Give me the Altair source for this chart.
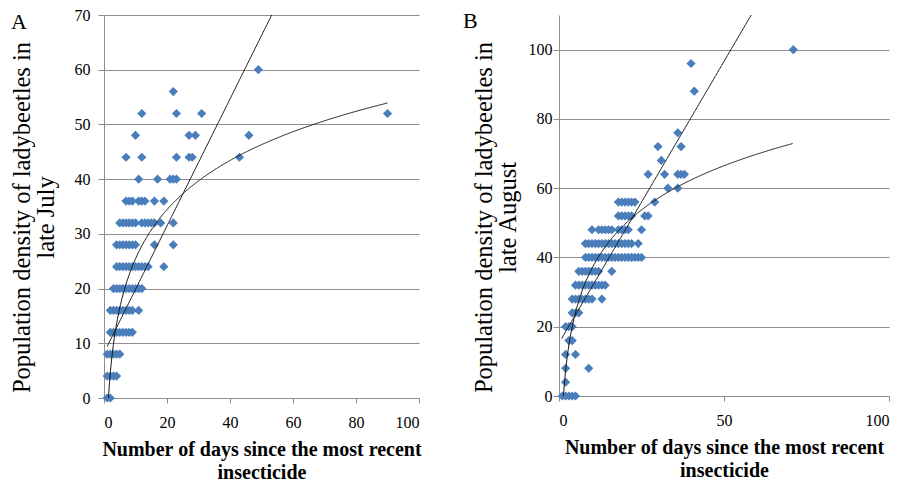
import altair as alt
import pandas as pd

# ---------------- Panel A (late July) ----------------
# density levels and the days (since most recent insecticide) observed at each level
a_levels = [0, 4, 8, 12, 16, 20, 24, 28, 32, 36, 40, 44, 48, 52, 56, 60]
a_days_by_level = [
    [1, 2],
    [1, 2, 3, 4],
    [1, 2, 3, 4, 5],
    [2, 3, 4, 5, 6, 7, 8, 9],
    [2, 3, 4, 5, 6, 7, 8, 9, 11],
    [3, 4, 5, 6, 7, 8, 9, 10, 11, 12],
    [4, 5, 6, 7, 8, 9, 10, 11, 12, 13, 14, 19],
    [4, 5, 6, 7, 8, 9, 10, 16, 22],
    [5, 6, 7, 8, 9, 10, 12, 13, 14, 15, 16, 18, 22],
    [7, 8, 9, 11, 12, 13, 16, 19],
    [11, 17, 21, 22, 23],
    [7, 12, 23, 27, 28, 43],
    [10, 27, 29, 46],
    [12, 23, 31, 90],
    [22],
    [49],
]
# trendlines as drawn in the figure
a_fit_linear = [1.16, 8.25]     # slope, intercept
a_fit_log = [12.96, -4.4]       # a * ln(x) + b
a_fit_range = [1, 90]

# ---------------- Panel B (late August) ----------------
b_levels = [0, 4, 8, 12, 16, 20, 24, 28, 32, 36, 40, 44, 48, 52, 56, 60, 64, 68, 72, 76, 88, 96, 100]
b_days_by_level = [
    [1, 2, 3, 4, 5],
    [2],
    [2, 9],
    [2, 5],
    [3, 4],
    [2, 3, 4],
    [4, 5, 6],
    [4, 5, 6, 7, 8, 9, 10, 13],
    [5, 6, 7, 8, 9, 10, 11, 12, 13, 14],
    [6, 7, 8, 9, 10, 11, 12, 16],
    [8, 9, 10, 11, 12, 13, 14, 15, 16, 17, 18, 19, 20, 21, 22, 23, 24, 25],
    [8, 9, 10, 11, 12, 13, 14, 15, 16, 17, 18, 19, 20, 21, 22, 24],
    [10, 12, 13, 14, 15, 16, 18, 19, 20, 21, 25],
    [18, 19, 20, 21, 22, 26, 27],
    [18, 19, 20, 21, 22, 23, 29],
    [33, 36],
    [27, 32, 36, 37, 38],
    [31],
    [30, 37],
    [36],
    [41],
    [40],
    [71],
]
b_fit_linear = [1.626, 15.3]
b_fit_log = [18.4, -5.5]
b_fit_range = [0.8, 71]

a_x_ticks = [0, 20, 40, 60, 80, 100]
a_y_ticks = [0, 10, 20, 30, 40, 50, 60, 70]
b_x_ticks = [0, 50, 100]
b_y_ticks = [0, 20, 40, 60, 80, 100]

x_title = ["Number of days since the most recent", "insecticide"]
a_y_title = ["Population density of ladybeetles in", "late July"]
b_y_title = ["Population density of ladybeetles in", "late August"]


def to_frame(levels, days_by_level):
    rows = []
    for lv, ds in zip(levels, days_by_level):
        for d in ds:
            rows.append({"days": d, "density": lv})
    return pd.DataFrame(rows)


dfA = to_frame(a_levels, a_days_by_level)
dfB = to_frame(b_levels, b_days_by_level)

SERIF = "Liberation Serif"
GRID = "#8e8e8e"
BLUE = "#4a7ebb"
LINE = "#1a1a1a"


def panel(df, xdom, ydom, xticks, yticks, ytitle, letter, w, h, label_pad, title_pad,
          letter_dx, letter_dy, fit_lin, fit_log, fit_range):
    xenc = alt.X(
        "days:Q",
        scale=alt.Scale(domain=xdom, nice=False),
        axis=alt.Axis(
            values=xticks, grid=False, domainColor=GRID, tickColor=GRID, tickSize=5,
            labelFont=SERIF, labelFontSize=16, labelColor="black", labelPadding=11,
            title=x_title, titleFont=SERIF, titleFontWeight="bold", titleFontSize=20,
            titleColor="black", titleLineHeight=23, titlePadding=9,
        ),
    )
    yenc = alt.Y(
        "density:Q",
        scale=alt.Scale(domain=ydom, nice=False),
        axis=alt.Axis(
            values=yticks, grid=True, gridColor=GRID, domainColor=GRID, tickColor=GRID,
            tickSize=6, labelFont=SERIF, labelFontSize=16, labelColor="black",
            labelPadding=label_pad, title=ytitle, titleFont=SERIF, titleFontSize=24.5,
            titleFontWeight="normal", titleColor="black", titleLineHeight=24,
            titlePadding=title_pad, titleY=202,
        ),
    )
    pts = alt.Chart(df).mark_point(
        shape="diamond", filled=True, size=85, color=BLUE, opacity=1
    ).encode(x=xenc, y=yenc)

    seq = alt.sequence(fit_range[0], fit_range[1] + 0.001, 0.25, as_="days")
    lin = alt.Chart(seq).transform_calculate(
        density=f"{fit_lin[0]} * datum.days + {fit_lin[1]}"
    ).mark_line(color=LINE, strokeWidth=1, clip=True).encode(x="days:Q", y="density:Q")
    log = alt.Chart(seq).transform_calculate(
        density=f"{fit_log[0]} * log(datum.days) + {fit_log[1]}"
    ).mark_line(color=LINE, strokeWidth=1, clip=True).encode(x="days:Q", y="density:Q")
    lab = alt.Chart(pd.DataFrame({"t": [letter]})).mark_text(
        font=SERIF, fontSize=22, align="left", baseline="top", color="black"
    ).encode(text="t:N", x=alt.value(letter_dx), y=alt.value(letter_dy))
    return alt.layer(pts, lin, log, lab).properties(width=w, height=h)


chartA = panel(dfA, [0, 100], [0, 70], a_x_ticks, a_y_ticks, a_y_title, "A", 315, 383, 8, 16,
               -93, -3, a_fit_linear, a_fit_log, a_fit_range)
chartB = panel(dfB, [0, 100], [0, 110], b_x_ticks, b_y_ticks, b_y_title, "B", 330, 381, 1, 8,
               -96, -4, b_fit_linear, b_fit_log, b_fit_range)

chart = alt.hconcat(chartA, chartB, spacing=40).properties(
    padding={"left": 0, "top": -2, "right": 0, "bottom": 0}
).configure_view(stroke="transparent")

chart.save("out.html", embed_options={"renderer": "svg", "actions": False})
